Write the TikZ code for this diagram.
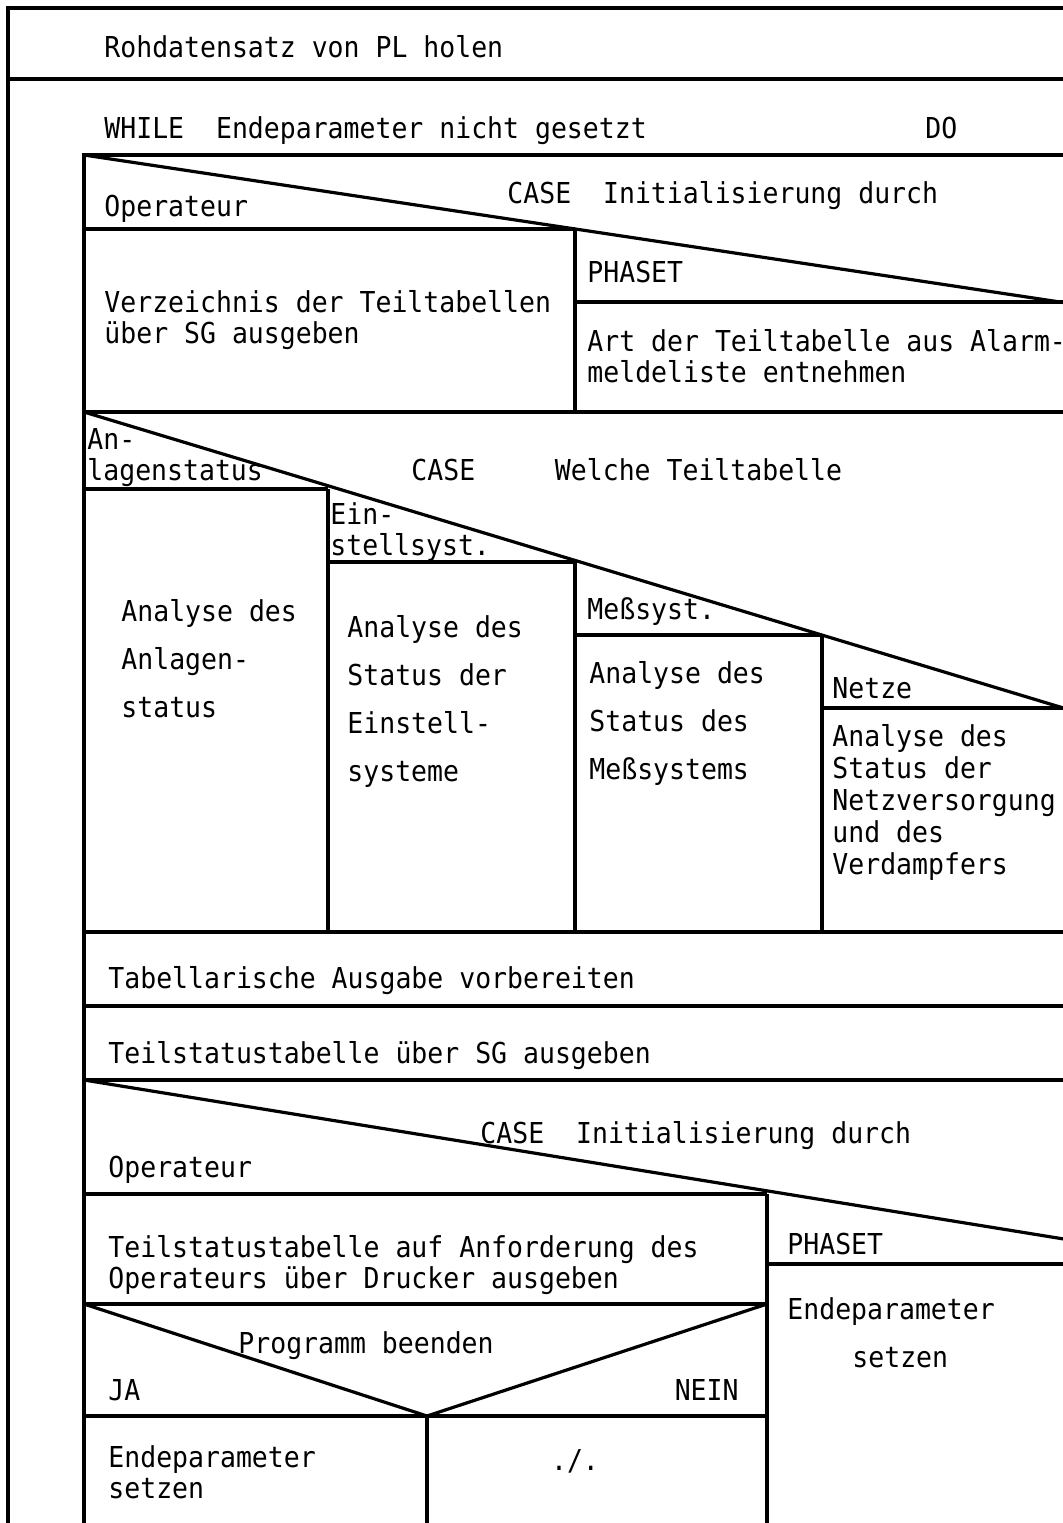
\documentclass[tikz,border=0pt]{standalone}
\usepackage{fontspec}
\usepackage{tikz}
\newfontfamily\nsfont[FakeStretch=0.92]{DejaVu Sans Mono}

\begin{document}
\begin{tikzpicture}[x=0.5pt,y=-0.5pt,
  ns/.style={line width=1.6pt},
  txt/.style={anchor=base west,inner sep=0pt,align=left,font=\nsfont\fontsize{14.4}{15.5}\selectfont},
  txtwide/.style={txt,font=\nsfont\fontsize{14.4}{24}\selectfont},
  txtmid/.style={txt,font=\nsfont\fontsize{14.4}{16}\selectfont}]
\useasboundingbox (0,0) rectangle (1063,1523);
\clip (0,0) rectangle (1063,1523);
\fill[white] (0,0) rectangle (1063,1523);
% frame and loop
\draw[ns] (8,1530) -- (8,8) -- (1070,8);
\draw[ns] (8,79) -- (1070,79);
\draw[ns] (84,1530) -- (84,155) -- (1070,155);
\node[txt] (raw) at (104,57) {Rohdatensatz von PL holen};
\node[txt] (while) at (104,138) {WHILE~~Endeparameter nicht gesetzt};
\node[txt] (do) at (925,138) {DO};
% first case
\draw[ns] (84,155) -- (1070,303.5);
\draw[ns] (84,229) -- (575,229);
\draw[ns] (575,229) -- (575,412);
\draw[ns] (575,302) -- (1070,302);
\draw[ns] (84,412) -- (1070,412);
\node[txt] (op1) at (104,216) {Operateur};
\node[txt] (case1) at (507,203) {CASE~~Initialisierung durch};
\node[txt] (ph1) at (587,282) {PHASET};
\node[txt] (verz) at (104,343) {Verzeichnis der Teiltabellen\\über SG ausgeben};
\node[txt] (art) at (587,382) {Art der Teiltabelle aus Alarm-\\meldeliste entnehmen};
% second case
\draw[ns] (84,412) -- (1070,710);
\draw[ns] (84,489) -- (328,489);
\draw[ns] (328,562) -- (575,562);
\draw[ns] (575,635) -- (822,635);
\draw[ns] (822,708) -- (1070,708);
\draw[ns] (328,489) -- (328,932);
\draw[ns] (575,562) -- (575,932);
\draw[ns] (822,635) -- (822,932);
\draw[ns] (84,932) -- (1070,932);
\node[txt] (anl) at (87,480) {An-\\lagenstatus};
\node[txt] (case2) at (411,480) {CASE~~~~~Welche Teiltabelle};
\node[txt] (ein) at (330,555) {Ein-\\stellsyst.};
\node[txt] (mess) at (587,619) {Meßsyst.};
\node[txt] (netz) at (832,698) {Netze};
\node[txtwide] (aanl) at (121,717) {Analyse des\\Anlagen-\\status};
\node[txtwide] (aein) at (347,781) {Analyse des\\Status der\\Einstell-\\systeme};
\node[txtwide] (amess) at (589,779) {Analyse des\\Status des\\Meßsystems};
\node[txtmid] (anetz) at (832,874) {Analyse des\\Status der\\Netzversorgung\\und des\\Verdampfers};
% output
\draw[ns] (84,1006) -- (1070,1006);
\draw[ns] (84,1080) -- (1070,1080);
\node[txt] (tab) at (108,988) {Tabellarische Ausgabe vorbereiten};
\node[txt] (sg) at (108,1063) {Teilstatustabelle über SG ausgeben};
% third case
\draw[ns] (84,1080) -- (1070,1240);
\draw[ns] (84,1194) -- (767,1194);
\draw[ns] (767,1194) -- (767,1530);
\draw[ns] (767,1264) -- (1070,1264);
\node[txt] (case3) at (480,1143) {CASE~~Initialisierung durch};
\node[txt] (op2) at (108,1177) {Operateur};
\node[txt] (druck) at (108,1288) {Teilstatustabelle auf Anforderung des\\Operateurs über Drucker ausgeben};
\node[txt] (ph2) at (787,1254) {PHASET};
\node[txt] (ende1) at (787,1319) {Endeparameter};
\node[txt] (ende1b) at (852,1367) {setzen};
% if
\draw[ns] (84,1304) -- (767,1304);
\draw[ns] (84,1304) -- (427,1416) -- (767,1304);
\draw[ns] (84,1416) -- (767,1416);
\draw[ns] (427,1416) -- (427,1530);
\node[txt] (prog) at (238,1353) {Programm beenden};
\node[txt] (ja) at (108,1400) {JA};
\node[txt,anchor=base east] (nein) at (739,1400) {NEIN};
\node[txt] (ende2) at (108,1498) {Endeparameter\\setzen};
\node[txt,anchor=base] (leer) at (575,1470) {./.};
\end{tikzpicture}
\end{document}
